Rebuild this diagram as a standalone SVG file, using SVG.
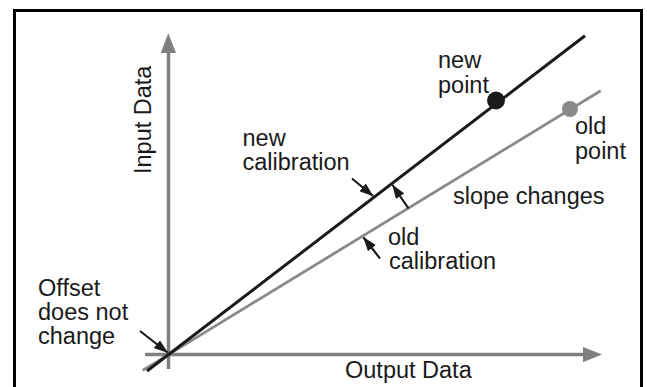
<svg xmlns="http://www.w3.org/2000/svg" width="647" height="387" viewBox="0 0 647 387">
<defs>
<style>
.t{font-family:"Liberation Sans",Arial,sans-serif;font-size:23.5px;fill:#1a1a1a}
.ax{stroke:#808080;stroke-width:3.5;fill:none}
.axh{fill:#808080}
.ptr{stroke:#1a1a1a;stroke-width:2.2;fill:none}
</style>
<marker id="ah" viewBox="0 0 14 10" markerWidth="14" markerHeight="10" refX="13.5" refY="5" orient="auto" markerUnits="userSpaceOnUse">
<path d="M0,0 L14,5 L0,10 z" fill="#1a1a1a"/>
</marker>
</defs>
<rect width="647" height="387" fill="#fff"/>
<rect id="frame" x="14.5" y="10.5" width="627" height="392" fill="none" stroke="#000" stroke-width="3"/>

<g id="y-axis">
<line class="ax" x1="168.5" y1="369" x2="168.5" y2="50"/>
<path class="axh" d="M168.3,33.3 L176,53 L160.7,53 z"/>
<text class="t" transform="translate(150.5,174) rotate(-90)">Input Data</text>
</g>
<g id="x-axis">
<line class="ax" x1="145" y1="354.6" x2="586" y2="354.6"/>
<path class="axh" d="M602,354.6 L583,347 L583,362.3 z"/>
<text class="t" x="345" y="378">Output Data</text>
</g>

<g id="old-calibration-line">
<line x1="142.6" y1="370.4" x2="600.7" y2="90.7" stroke="#8a8a8a" stroke-width="2.8"/>
</g>
<g id="new-calibration-line">
<line x1="147" y1="371" x2="585" y2="35.7" stroke="#1a1a1a" stroke-width="3"/>
</g>

<g id="new-point">
<circle cx="496" cy="100.5" r="9" fill="#1a1a1a"/>
<text class="t" x="438" y="68">new</text>
<text class="t" x="438" y="93">point</text>
</g>
<g id="old-point">
<circle cx="570" cy="109" r="8" fill="#8a8a8a"/>
<text class="t" x="575" y="134">old</text>
<text class="t" x="575" y="159">point</text>
</g>

<g id="offset-label">
<text class="t" x="38" y="296">Offset</text>
<text class="t" x="38" y="320">does not</text>
<text class="t" x="38" y="344">change</text>
</g>
<g id="new-calibration-label">
<text class="t" x="242.5" y="146">new</text>
<text class="t" x="242.5" y="170">calibration</text>
</g>
<g id="slope-label">
<text class="t" x="453" y="204">slope changes</text>
</g>
<g id="old-calibration-label">
<text class="t" x="388" y="245">old</text>
<text class="t" x="389" y="269">calibration</text>
</g>

<g id="connectors">
<line class="ptr" x1="140" y1="331" x2="167.5" y2="352.5" marker-end="url(#ah)"/>
<line class="ptr" x1="352" y1="178.5" x2="373" y2="196" marker-end="url(#ah)"/>
<line class="ptr" x1="408.5" y1="208.5" x2="392.5" y2="185" marker-end="url(#ah)"/>
<line class="ptr" x1="380" y1="258.5" x2="363.5" y2="237.5" marker-end="url(#ah)"/>
</g>
</svg>
